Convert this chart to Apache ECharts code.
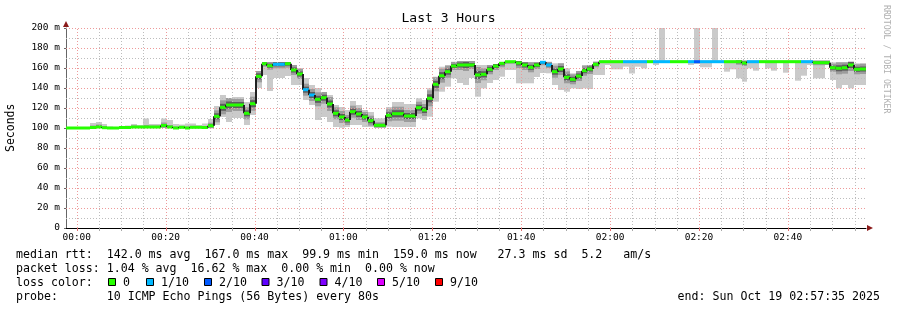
<!DOCTYPE html>
<html><head><meta charset="utf-8">
<script src="https://cdn.jsdelivr.net/npm/echarts@6/dist/echarts.min.js"></script>
<style>html,body{margin:0;padding:0;background:#fff}#c{width:897px;height:310px}</style>
</head><body><div id="c"></div>
<script>
// time in minutes relative to 00:00; graph starts 23:57:35, one step = 80 s
const START_MIN = -2.4167;
const STEP_MIN = 80 / 60;
const STEPS = 135;

const median = [
100,100,100,100,100.5,101,100.3,100,100,100.5,
100.5,101,101,101,101,101,102.5,101,100,100.7,
100,100.7,100.7,100.5,102.3,111.7,120.7,123,123,123,
114.7,124.3,151.7,164.3,162.3,163.7,163.7,164.3,158,154,
138.3,133,128.7,130.3,124,114.7,111,108,116.3,114,
111,107.3,102.7,102.7,112.7,114.3,114.3,112,112,120.3,
118,129.7,143.7,152.3,156.3,162,163,163,163,153,
153.7,158.7,162,164.7,166.3,166.3,165,163,160.7,163,
165.7,163,156.3,159,150.7,148.7,152,157.3,159,163.7,
166.3,166.3,166.3,166.3,166.3,166.3,166.3,166.3,166.3,166.3,
166.3,166.3,166.3,166.3,166.3,166.3,166.3,166.3,166.3,166.3,
166.3,166.3,166.3,166.3,165,166.3,166.3,166.3,166.3,166.3,
166.3,166.3,166.3,166.3,166.3,166.3,165.3,165.3,165.3,160.3,
159.7,160.3,163,158.7,159
];
const minRtt = [
99.6,99.6,99.6,99.6,99.8,100,99.8,99.8,99.8,100,
100,100,100,100,100,100,100,100,99.8,100,
99.8,100,100,100,99.8,103,111,106,110,110,
103,113,140,153,137,150,150,152,143,143,
128,123,108,111,106,101,100.3,101,103,103,
101,101,100.3,100.3,101.3,101,101,101,101,109.7,
108,111.3,126.3,136.3,141.3,149.7,145,143,150,131.3,
139.7,145,148,151.3,158,158,144.7,144.7,144.7,151,
155,154.7,143,138,136.3,139.7,139,139.7,139,153,
153,163,158.7,158.7,161.3,154.5,161.3,159.7,165,163,
165,165.5,165.5,165.5,165.5,163,164,160.7,160.7,165,
165,156.3,158.7,149.7,146.3,159.7,157.3,165,159.7,157.3,
165,155.3,165,147.3,152.3,163,149.7,149.7,163,148,
139.7,143,139.7,143,143
];
const maxRtt = [
100.4,100.4,100.4,100.6,105,106,104,101.5,100.6,102,
102.5,104,103,109.5,104,104,109.5,108,104,103.5,
104.5,104.5,103,104.5,109,122,133,130,131,131,
126,136,157,166,166,166,166,166,163,160,
150,143,140,136,133,123,121,118,127,123,
118,116,109.7,109.7,121,126,126,124,124,129.7,
128,139.7,151.3,161.3,163,166.3,167,167,167,163,
163,163,164,166,167,167,167,166,166,166,
167,166.3,164.7,164.7,159.7,154.7,157,163,163,166.3,
167.5,167.5,167.5,167.5,167.5,167.5,167.5,167.5,167.5,167.5,
167.5,167.5,167.5,167.5,167.5,167.5,167.5,167.5,167.5,167.5,
167.5,167.5,167.5,167.5,167.5,167.5,167.5,167.5,167.5,167.5,
167.5,167.5,167.5,167.5,167.5,167.5,167.5,167.5,167.5,165.7,
165.7,165.7,166.3,164.7,165
];
// half-width (ms) of the dense core of the smoke around the median
const coreSpread = [
0.3,0.3,0.3,0.3,2,2.5,1.5,0.5,0.3,1,
1,1.5,1,2,1.5,1.5,3,2,1.5,1,
1.5,1.5,1,1.5,3,6,7,7,6,6,
6,7,6,3,4,4,4,4,5,5,
6,6,7,6,7,6,6,5,6,6,
5,5,3,3,6,7,7,6,6,6,
6,8,7,7,6,4,5,6,4,8,
6,5,4,4,2,2,5,5,5,4,
3,3,6,6,6,5,5,5,5,3,
0.8,0.8,0.8,0.8,0.8,0.8,0.8,0.8,0.8,0.8,
0.8,0.8,0.8,0.8,0.8,0.8,0.8,0.8,0.8,0.8,
0.8,0.8,0.8,3,3,0.8,0.8,0.8,0.8,0.8,
0.8,0.8,0.8,0.8,0.8,0.8,2.5,2.5,2.5,4,
6,6,6,5,5
];
// lost pings out of 10 per step
const lossCount = [
0,0,0,0,0,0,0,0,0,0,
0,0,0,0,0,0,0,0,0,0,
0,0,0,0,0,0,0,0,0,0,
0,0,0,0,0,1,1,0,0,0,
1,1,0,0,0,0,0,0,0,0,
0,0,0,0,0,0,0,0,0,0,
0,0,0,0,0,0,0,0,0,0,
0,0,0,0,0,0,0,0,0,0,
1,1,0,0,0,0,0,0,0,0,
0,0,0,0,1,1,1,1,0,1,
1,1,0,0,0,1,2,1,1,1,
1,0,0,0,0,1,1,0,0,0,
0,0,0,0,1,1,0,0,0,0,
0,0,0,0,0
];
// single outlier pings above the top of the graph
const peakSteps = [100, 106, 109];
const peakValues = [201, 201, 201];

const xTickValues = [0, 20, 40, 60, 80, 100, 120, 140, 160];
const xTickLabels = ['00:00','00:20','00:40','01:00','01:20','01:40','02:00','02:20','02:40'];
const xMinorGrid = [5,10,15,25,30,35,45,50,55,65,70,75,85,90,95,105,110,115,125,130,135,145,150,155,165,170,175];
const yMajorGrid = [20,40,60,80,100,120,140,160,180,200];
const yMinorGrid = [10,30,50,70,90,110,130,150,170,190];

const lossColors = ['#26ff00','#00b8ff','#0059ff','#5e00ff','#7e00ff','#dd00ff','#ff0000'];
const lossLabels = ['0','1/10','2/10','3/10','4/10','5/10','9/10'];

const X_MIN = START_MIN, X_MAX = START_MIN + STEPS * STEP_MIN;
const MONO = '"DejaVu Sans Mono", monospace';
const SMOKE_LIGHT = '#cacaca', SMOKE_MID = '#9c9c9c', SMOKE_DARK = '#5c5c5c';
const GRID_MAJOR = '#ee9a9a', GRID_MINOR = '#bdbdbd';

function lossColor(n){ return n <= 5 ? lossColors[n] : lossColors[6]; }

const stepData = median.map((m, k) => {
  const pi = peakSteps.indexOf(k);
  return [k, m, minRtt[k], maxRtt[k], coreSpread[k], lossCount[k], pi >= 0 ? peakValues[pi] : 0, k > 0 ? median[k-1] : m];
});

function stepEdges(api, k){
  const x0 = START_MIN + k * STEP_MIN, x1 = x0 + STEP_MIN;
  return [x0, Math.round(api.coord([x0, 0])[0]), Math.round(api.coord([x1, 0])[0])];
}

function smokeItem(params, api){
  const k = api.value(0);
  const med = api.value(1), lo = api.value(2), hi = api.value(3), cr = api.value(4), peak = api.value(6);
  const [x0, L, R] = stepEdges(api, k);
  const kids = [];
  const band = (a, b, fill) => {
    if (b <= a) return;
    const yT = api.coord([x0, b])[1], yB = api.coord([x0, a])[1];
    kids.push({type:'rect', shape:{x:L, y:yT, width:R-L, height:Math.max(yB-yT, 0.5)}, style:{fill}});
  };
  if (peak > 0) band(med, peak, SMOKE_LIGHT);
  band(lo, hi, SMOKE_LIGHT);
  band(Math.max(lo, med-cr), Math.min(hi, med+cr), SMOKE_MID);
  band(Math.max(lo, med-cr/2), Math.min(hi, med+cr/2), SMOKE_DARK);
  return {type:'group', children:kids};
}

function medianItem(params, api){
  const k = api.value(0);
  const med = api.value(1), loss = api.value(5), prev = api.value(7);
  const [x0, L, R] = stepEdges(api, k);
  const y = api.coord([x0, med])[1], yp = api.coord([x0, prev])[1];
  const kids = [];
  if (Math.abs(y - yp) > 0.5) {
    kids.push({type:'line', shape:{x1:L, y1:yp, x2:L, y2:y}, style:{stroke:'#202020', lineWidth:2}});
  }
  kids.push({type:'line', shape:{x1:L, y1:y, x2:R, y2:y}, style:{stroke:'#202020', lineWidth:1}});
  kids.push({type:'rect', shape:{x:L, y:y-1.5, width:R-L, height:3}, style:{fill:lossColor(loss)}});
  return {type:'group', children:kids};
}

const gridData = [];
xTickValues.forEach(v => gridData.push([0, v, 1]));
xMinorGrid.forEach(v => gridData.push([0, v, 0]));
yMajorGrid.forEach(v => gridData.push([1, v, 1]));
yMinorGrid.forEach(v => gridData.push([1, v, 0]));

function gridItem(params, api){
  const dir = api.value(0), v = api.value(1), major = api.value(2);
  const color = major ? GRID_MAJOR : GRID_MINOR;
  if (dir === 0) {
    const p = api.coord([v, 0]), q = api.coord([v, 200]);
    const x = Math.round(p[0]) + 0.5;
    return {type:'group', children:[
      {type:'line', shape:{x1:x, y1:p[1], x2:x, y2:q[1]}, style:{stroke:color, lineWidth:1, lineDash:[1,2]}},
      {type:'line', shape:{x1:x, y1:p[1], x2:x, y2:p[1]+3}, style:{stroke: major ? '#e07070' : '#aaaaaa', lineWidth:1}}
    ]};
  }
  const p = api.coord([X_MIN, v]), q = api.coord([X_MAX, v]);
  const y = Math.round(p[1]) + 0.5;
  return {type:'line', shape:{x1:p[0], y1:y, x2:q[0], y2:y}, style:{stroke:color, lineWidth:1, lineDash:[1,2]}};
}

const GL = 66, GT = 28, GW = 800, GH = 200;

const graphics = [
  {type:'text', left:'center', top:12, style:{text:'Last 3 Hours', font:'13px ' + MONO, fill:'#000'}},
  {type:'text', x:5, y:152, rotation:Math.PI/2, style:{text:'Seconds', font:'11.5px ' + MONO, fill:'#000', textVerticalAlign:'top'}},
  {type:'text', x:886, y:5, rotation:-Math.PI/2, style:{text:'RRDTOOL / TOBI OETIKER', font:'8.2px ' + MONO, fill:'#b0b0b0', textVerticalAlign:'middle'}},
  {type:'polygon', shape:{points:[[GL+GW+1, GT+GH-3],[GL+GW+7, GT+GH],[GL+GW+1, GT+GH+3]]}, style:{fill:'#8b1a1a'}},
  {type:'polygon', shape:{points:[[GL-3, GT-1],[GL, GT-7],[GL+3, GT-1]]}, style:{fill:'#8b1a1a'}},
  {type:'text', x:16, y:254.5, style:{text:'median rtt:  142.0 ms avg  167.0 ms max  99.9 ms min  159.0 ms now   27.3 ms sd  5.2   am/s', font:'11.6px ' + MONO, fill:'#000', textVerticalAlign:'middle'}},
  {type:'text', x:16, y:268.5, style:{text:'packet loss: 1.04 % avg  16.62 % max  0.00 % min  0.00 % now', font:'11.6px ' + MONO, fill:'#000', textVerticalAlign:'middle'}},
  {type:'text', x:16, y:282.5, style:{text:'loss color:', font:'11.6px ' + MONO, fill:'#000', textVerticalAlign:'middle'}},
  {type:'text', x:16, y:296.5, style:{text:'probe:       10 ICMP Echo Pings (56 Bytes) every 80s', font:'11.6px ' + MONO, fill:'#000', textVerticalAlign:'middle'}},
  {type:'text', x:880, y:296.5, style:{text:'end: Sun Oct 19 02:57:35 2025', font:'11.6px ' + MONO, fill:'#000', textAlign:'right', textVerticalAlign:'middle'}}
];
const boxX = [108, 146, 204, 261.5, 319.5, 377, 435];
lossLabels.forEach((lab, i) => {
  graphics.push({type:'rect', shape:{x:boxX[i]+0.5, y:278.5, width:7, height:7}, style:{fill:lossColors[i], stroke:'#000', lineWidth:1}});
  graphics.push({type:'text', x:boxX[i]+15, y:282.5, style:{text:lab, font:'11.6px ' + MONO, fill:'#000', textVerticalAlign:'middle'}});
});

const chart = echarts.init(document.getElementById('c'), null, {renderer:'canvas'});
chart.setOption({
  animation:false,
  backgroundColor:'#fff',
  grid:{left:GL, top:GT, width:GW, height:GH},
  xAxis:{
    type:'value', min:X_MIN, max:X_MAX,
    axisLine:{show:true, onZero:false, lineStyle:{color:'#000', width:1}},
    axisTick:{show:false},
    splitLine:{show:false},
    axisLabel:{customValues:xTickValues, formatter:(v) => { const i = xTickValues.indexOf(Math.round(v)); return i >= 0 ? xTickLabels[i] : ''; },
      color:'#000', fontFamily:'DejaVu Sans Mono', fontSize:9.5, margin:5}
  },
  yAxis:{
    type:'value', min:0, max:200, interval:20,
    axisLine:{show:true, onZero:false, lineStyle:{color:'#666', width:1}},
    axisTick:{show:true, length:2, lineStyle:{color:'#666'}},
    splitLine:{show:false},
    axisLabel:{formatter:(v) => v === 0 ? '0' : v + ' m', color:'#000', fontFamily:'DejaVu Sans Mono', fontSize:9.5, margin:6}
  },
  graphic:graphics,
  series:[
    {type:'custom', name:'smoke', coordinateSystem:'cartesian2d', renderItem:smokeItem, data:stepData, clip:true, z:1, silent:true},
    {type:'custom', name:'grid', coordinateSystem:'cartesian2d', renderItem:gridItem, data:gridData, clip:false, z:2, silent:true},
    {type:'custom', name:'median', coordinateSystem:'cartesian2d', renderItem:medianItem, data:stepData, clip:true, z:3, silent:true}
  ]
});
</script></body></html>
